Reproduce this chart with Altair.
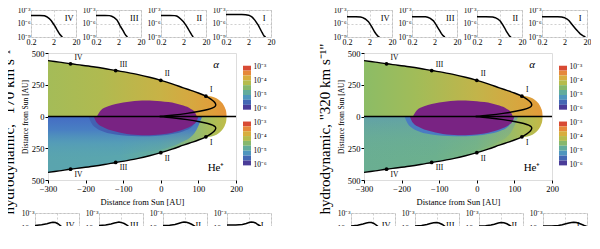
import altair as alt
import pandas as pd

FONT = "Liberation Serif"

# ---------------- small panels (x, log10 y) ----------------
ROMAN = ["IV", "III", "II", "I"]

# top row, 170 km/s
A170_IV_X = [0.2, 0.5, 0.8, 1.0, 1.3, 1.6, 2.0, 2.4, 2.8, 3.3, 3.8, 4.5, 5.0]
A170_IV_Y = [-4.2, -4.2, -4.3, -4.5, -4.9, -5.4, -6.1, -6.7, -7.3, -7.9, -8.4, -8.8, -9.0]
A170_III_X = [0.2, 0.5, 0.8, 1.0, 1.3, 1.7, 2.0, 2.3, 2.7, 3.2, 3.7, 4.2, 5.0]
A170_III_Y = [-4.2, -4.2, -4.25, -4.4, -4.7, -5.2, -5.8, -6.4, -7.0, -7.6, -8.2, -8.6, -9.0]
A170_II_X = [0.2, 0.5, 0.8, 1.0, 1.2, 1.5, 2.0, 2.5, 3.0, 3.5, 4.1, 4.7, 5.4]
A170_II_Y = [-4.2, -4.2, -4.25, -4.35, -4.6, -5.0, -5.6, -6.3, -6.9, -7.5, -8.1, -8.6, -9.0]
A170_I_X = [0.2, 0.5, 1.0, 1.5, 2.0, 2.5, 3.0, 3.9, 4.7, 5.5, 6.3, 7.1, 8.0, 8.9, 10, 11.5]
A170_I_Y = [-4.0, -4.0, -4.0, -4.05, -4.15, -4.35, -4.65, -5.3, -5.9, -6.4, -7.0, -7.5, -8.0, -8.4, -8.8, -9.0]

# bottom row, 170 km/s
H170_IV_X = [0.2, 0.4, 0.7, 1.0, 1.3, 1.7, 2.2, 3.0, 4.0, 5.5, 7.5, 10, 14, 19]
H170_IV_Y = [-5.5, -5.35, -5.15, -4.95, -4.85, -4.9, -5.15, -5.6, -6.2, -6.9, -7.6, -8.2, -8.7, -9.0]
H170_III_X = [0.2, 0.4, 0.7, 1.0, 1.3, 1.6, 2.0, 2.8, 3.7, 5.0, 7.0, 10, 14, 20]
H170_III_Y = [-5.5, -5.4, -5.2, -5.0, -4.88, -4.82, -4.88, -5.1, -5.4, -5.9, -6.5, -7.3, -8.1, -9.0]
H170_II_X = [0.2, 0.4, 0.7, 1.0, 1.4, 1.8, 2.3, 3.0, 4.0, 5.5, 7.5, 10, 14, 20]
H170_II_Y = [-5.5, -5.45, -5.3, -5.1, -4.92, -4.82, -4.85, -5.0, -5.25, -5.6, -6.1, -6.6, -7.2, -7.9]
H170_I_X = [0.2, 0.5, 1.0, 1.5, 2.0, 2.5, 3.2, 4.0, 5.0, 7.0, 10, 14, 20]
H170_I_Y = [-5.4, -5.4, -5.3, -5.1, -4.9, -4.8, -4.85, -5.0, -5.3, -5.7, -6.0, -6.3, -6.6]

# top row, 320 km/s
A320_IV_X = [0.2, 0.5, 0.8, 1.0, 1.3, 1.8, 2.5, 3.0, 3.4, 4.0, 4.7, 5.5]
A320_IV_Y = [-4.5, -4.5, -4.55, -4.7, -5.0, -5.6, -6.7, -7.4, -7.9, -8.4, -8.8, -9.0]
A320_III_X = [0.2, 0.5, 0.8, 1.0, 1.3, 1.8, 2.3, 2.8, 3.4, 4.0, 4.8, 5.8]
A320_III_Y = [-4.5, -4.5, -4.52, -4.6, -4.85, -5.4, -6.2, -6.9, -7.6, -8.2, -8.7, -9.0]
A320_II_X = [0.2, 0.5, 1.0, 1.3, 1.7, 2.2, 2.8, 3.4, 4.0, 4.8, 5.6, 6.5]
A320_II_Y = [-4.5, -4.5, -4.55, -4.7, -5.0, -5.5, -6.3, -7.0, -7.7, -8.3, -8.8, -9.0]
A320_I_X = [0.2, 0.5, 1.0, 1.5, 2.0, 2.6, 3.2, 4.0, 5.0, 6.3, 8.0, 10, 13, 17]
A320_I_Y = [-4.5, -4.5, -4.5, -4.55, -4.7, -5.0, -5.4, -6.0, -6.6, -7.2, -7.8, -8.3, -8.7, -9.0]

# bottom row, 320 km/s
H320_IV_X = [0.2, 0.4, 0.7, 1.0, 1.3, 1.7, 2.2, 3.0, 4.0, 5.0, 6.5, 8.5, 11, 14, 18]
H320_IV_Y = [-5.6, -5.45, -5.2, -5.0, -4.9, -4.92, -5.1, -5.5, -6.0, -6.4, -7.0, -7.6, -8.2, -8.7, -9.0]
H320_III_X = [0.2, 0.4, 0.7, 1.0, 1.4, 1.9, 2.5, 3.5, 5.0, 6.5, 8.5, 11, 15, 20]
H320_III_Y = [-5.6, -5.5, -5.3, -5.1, -4.95, -4.9, -5.0, -5.3, -5.8, -6.3, -6.9, -7.6, -8.4, -9.0]
H320_II_X = [0.2, 0.4, 0.7, 1.0, 1.5, 2.0, 2.7, 3.7, 5.0, 7.0, 10, 14, 20]
H320_II_Y = [-5.6, -5.55, -5.4, -5.25, -5.0, -4.9, -4.95, -5.15, -5.5, -5.9, -6.3, -6.7, -7.0]
H320_I_X = [0.2, 0.5, 1.0, 1.5, 2.0, 3.0, 4.0, 5.0, 6.5, 8.5, 11, 15, 20]
H320_I_Y = [-5.6, -5.6, -5.5, -5.35, -5.2, -5.0, -4.9, -4.85, -4.9, -5.05, -5.25, -5.5, -5.7]

SMALL_TICKS_X = [0.2, 2, 20]
SMALL_TICKS_Y = [1e-9, 1e-6, 1e-3]
ROMAN_POS_TOP = (10.0, -4.75)
ROMAN_POS_BOT = (8.0, -5.3)

# ---------------- main panel geometry (AU) ----------------
HP_X = [-300, -270, -240, -210, -180, -150, -120, -90, -60, -30, 0, 30, 60, 80, 100, 120, 135, 148, 158, 166, 171, 174, 175]
HP_Y = [440, 428, 415, 404, 392, 378, 362, 347, 330, 309, 285, 257, 226, 206, 186, 166, 157, 143, 122, 95, 65, 35, 0]

SL_X = [-3, 30, 70, 103, 125, 138, 145, 146, 143, 137, 129, 120, 100, 80, 60, 30, 0, -30, -60, -90, -120, -150, -180, -210, -240, -270, -300]
SL_Y = [0, 10, 25, 41, 55, 68, 82, 96, 112, 128, 145, 160, 185, 206, 226, 257, 285, 309, 330, 347, 362, 378, 392, 404, 415, 428, 440]

PT_LABEL = ["I", "II", "III", "IV"]
PT_X = [120, 0, -120, -240]
PT_Y = [160, 285, 362, 415]

ELT_X = [-170, -160, -140, -120, -100, -80, -60, -40, -20, 0, 20, 40, 60, 80, 90, 96]
ELT_Y = [0, 48, 80, 98, 111, 119, 124, 126, 125, 121, 114, 103, 86, 60, 37, 0]
ELB_X = [-178, -170, -150, -130, -110, -90, -70, -50, -30, -10, 10, 30, 50, 70, 85, 95, 100]
ELB_Y = [0, 50, 88, 111, 126, 137, 143, 147, 147, 144, 138, 128, 113, 91, 66, 39, 0]

HALO_X = [-192, -185, -170, -150, -120, -90, -60, -30, 0, 30, 60, 85, 100]
HALO_Y = [0, 50, 95, 122, 142, 152, 156, 155, 150, 138, 116, 75, 0]

OV_X = [-300, -250, -200, -150, -100, -50, 0, 50, 90, 110]
OV_Y = [350, 340, 330, 315, 300, 280, 260, 210, 130, 0]

ANN_X = [147, 147]
ANN_Y = [405, -405]

CB_EDGES = [-2.93, -3.28, -3.63, -3.98, -4.33, -4.68, -5.04, -5.39, -5.75, -6.1]
CB_COLORS = ["#d84a34", "#e6883a", "#d8ae3e", "#b6bc4c", "#86b86c", "#62ac9c", "#4f96be", "#4468b4", "#4a3c98"]
CB_TICKS = [1e-3, 1e-4, 1e-5, 1e-6]

SUP = {-3: "⁻³", -4: "⁻⁴", -5: "⁻⁵", -6: "⁻⁶", -9: "⁻⁹"}


def sup_expr():
    e = "round(log(datum.value)/LN10)"
    s = "''"
    for k, v in SUP.items():
        s = f"({e} == {k} ? '{v}' : {s})"
    return "'10' + " + s


def grad(stops, vertical=False):
    return alt.Gradient(
        gradient="linear", x1=0, y1=0, x2=0 if vertical else 1, y2=1 if vertical else 0,
        stops=[alt.GradientStop(offset=o, color=c) for o, c in stops])


def spacer(w, h):
    return alt.Chart(pd.DataFrame({"v": [0]})).mark_point(opacity=0, size=0.1).encode(
        x=alt.X("v:Q", axis=None), y=alt.Y("v:Q", axis=None)).properties(
        width=w, height=h, view=alt.ViewBackground(stroke="transparent"))


# ---------------- small panel ----------------
S_XAX = alt.Axis(values=SMALL_TICKS_X,
                 labelExpr="datum.value < 1 ? '0.2' : (datum.value < 5 ? '2' : '20')",
                 grid=True, gridDash=[2, 2], gridColor="#b0b0b0", gridWidth=0.6,
                 domain=False, ticks=False, labelPadding=1, labelFontSize=8,
                 labelFlush=False, labelOverlap=False, title=None, labelFont=FONT)
S_YAX = alt.Axis(values=SMALL_TICKS_Y, labelExpr=sup_expr(),
                 grid=True, gridDash=[2, 2], gridColor="#b0b0b0", gridWidth=0.6,
                 domain=False, ticks=False, labelPadding=1, labelFontSize=7.5,
                 labelFlush=False, labelOverlap=False, title=None, labelFont=FONT)
S_XSC = alt.Scale(type="log", domain=[0.2, 20], nice=False)
S_YSC = alt.Scale(type="log", domain=[1e-9, 1e-3], nice=False)


def small(xs, ys, label, pos, w, h):
    df = pd.DataFrame({"x": xs, "y": [10 ** v for v in ys]})
    line = alt.Chart(df).mark_line(color="black", strokeWidth=1.5, clip=True).encode(
        x=alt.X("x:Q", scale=S_XSC, axis=S_XAX), y=alt.Y("y:Q", scale=S_YSC, axis=S_YAX))
    tdf = pd.DataFrame({"x": [pos[0]], "y": [10 ** pos[1]], "t": [label]})
    txt = alt.Chart(tdf).mark_text(font=FONT, fontSize=8.5, color="black").encode(
        x=alt.X("x:Q", scale=S_XSC, axis=S_XAX), y=alt.Y("y:Q", scale=S_YSC, axis=S_YAX), text="t:N")
    return alt.layer(line, txt).properties(width=w, height=h)


# ---------------- main panel ----------------
XS = alt.Scale(domain=[-300, 200], nice=False, zero=False)
YS = alt.Scale(domain=[-500, 500], nice=False, zero=False)
M_XAX = alt.Axis(values=[-300, -200, -100, 0, 100, 200], title="Distance from Sun [AU]",
                 grid=False, domain=False, tickSize=3, tickColor="black", labelFont=FONT,
                 labelFontSize=8.5, titleFont=FONT, titleFontSize=8.5, titleFontWeight="normal",
                 labelPadding=1.5, titlePadding=4.5, labelFlush=False, labelOverlap=False)
M_YAX = alt.Axis(values=[-500, -250, 0, 250, 500], title="Distance from Sun [AU]",
                 labelExpr="format(abs(datum.value), 'd')",
                 grid=False, domain=False, tickSize=3, tickColor="black", labelFont=FONT,
                 labelFontSize=8.5, titleFont=FONT, titleFontSize=7.5, titleFontWeight="normal",
                 labelPadding=1, titlePadding=2, labelOverlap=False)


def enc():
    return dict(x=alt.X("x:Q", scale=XS, axis=M_XAX), y=alt.Y("y:Q", scale=YS, axis=M_YAX))


def half(xs, ys, sign):
    return pd.DataFrame({"x": xs, "y": [sign * v for v in ys], "y0": [0] * len(xs)})


def main_panel(top_stops, bot_stops, ov_stops, halo_col):
    top = alt.Chart(half(HP_X, HP_Y, 1)).mark_area(color=grad(top_stops), interpolate="monotone").encode(
        **enc(), y2="y0:Q")
    bot = alt.Chart(half(HP_X, HP_Y, -1)).mark_area(color=grad(bot_stops), interpolate="monotone").encode(
        **enc(), y2="y0:Q")
    ov = alt.Chart(half(OV_X, OV_Y, -1)).mark_area(color=grad(ov_stops, vertical=True),
                                                  interpolate="monotone").encode(**enc(), y2="y0:Q")
    halo = alt.Chart(half(HALO_X, HALO_Y, -1)).mark_area(color=halo_col, interpolate="monotone").encode(
        **enc(), y2="y0:Q")
    et = alt.Chart(half(ELT_X, ELT_Y, 1)).mark_area(color="#792383", interpolate="monotone").encode(
        **enc(), y2="y0:Q")
    eb = alt.Chart(half(ELB_X, ELB_Y, -1)).mark_area(color="#792383", interpolate="monotone").encode(
        **enc(), y2="y0:Q")
    rule = alt.Chart(pd.DataFrame({"y": [0]})).mark_rule(color="black", strokeWidth=1.3).encode(
        y=alt.Y("y:Q", scale=YS, axis=M_YAX))
    sl_t = pd.DataFrame({"x": SL_X, "y": SL_Y, "i": list(range(len(SL_X)))})
    sl_b = pd.DataFrame({"x": SL_X, "y": [-v for v in SL_Y], "i": list(range(len(SL_X)))})
    st = alt.Chart(sl_t).mark_line(color="black", strokeWidth=1.4, interpolate="catmull-rom", clip=True).encode(
        **enc(), order="i:Q")
    sb = alt.Chart(sl_b).mark_line(color="black", strokeWidth=1.4, interpolate="catmull-rom", clip=True).encode(
        **enc(), order="i:Q")
    pts = pd.DataFrame({"x": PT_X + PT_X, "y": PT_Y + [-v for v in PT_Y], "t": PT_LABEL + PT_LABEL})
    pm = alt.Chart(pts).mark_circle(color="black", size=14, opacity=1).encode(**enc())
    lt = alt.Chart(pts[pts.y > 0]).mark_text(font=FONT, fontSize=7.5, dx=4, dy=-6, align="left",
                                             color="black").encode(**enc(), text="t:N")
    lb = alt.Chart(pts[pts.y < 0]).mark_text(font=FONT, fontSize=7.5, dx=4, dy=6, align="left",
                                             color="black").encode(**enc(), text="t:N")
    a1 = alt.Chart(pd.DataFrame({"x": ANN_X[:1], "y": ANN_Y[:1], "t": ["α"]})).mark_text(
        font=FONT, fontSize=11, fontStyle="italic", color="black").encode(**enc(), text="t:N")
    a2 = alt.Chart(pd.DataFrame({"x": ANN_X[1:], "y": ANN_Y[1:], "t": ["He⁺"]})).mark_text(
        font=FONT, fontSize=11, color="black").encode(**enc(), text="t:N")
    inner = alt.layer(top, bot, ov, halo, et, eb, rule, st, sb, pm, lt, lb, a1, a2)

    cb_df = pd.DataFrame({
        "lo": [10 ** CB_EDGES[i + 1] for i in range(len(CB_COLORS))],
        "hi": [10 ** CB_EDGES[i] for i in range(len(CB_COLORS))],
        "band": list(range(len(CB_COLORS))),
        "c0": [0] * len(CB_COLORS), "c1": [1] * len(CB_COLORS)})

    def cbar(rng):
        return alt.Chart(cb_df).mark_rect().encode(
            x=alt.X("c0:Q", scale=alt.Scale(domain=[0, 1], range=[195, 203], nice=False, zero=False), axis=None),
            x2="c1:Q",
            y=alt.Y("lo:Q", scale=alt.Scale(type="log", domain=[1e-6, 1e-3], range=rng, nice=False),
                    axis=alt.Axis(orient="right", offset=16, values=CB_TICKS, labelExpr=sup_expr(),
                                  ticks=False, domain=False, grid=False, title=None, labelFont=FONT,
                                  labelFontSize=7.5, labelPadding=1, labelOverlap=False)),
            y2="hi:Q",
            color=alt.Color("band:O", scale=alt.Scale(domain=list(range(len(CB_COLORS))), range=CB_COLORS),
                            legend=None))

    return alt.layer(inner, cbar([55.3, 13.7]), cbar([111, 69.5])).resolve_scale(
        x="independent", y="independent", color="independent").properties(width=188, height=127)


def column(title, tops, bots, top_stops, bot_stops, ov_stops, halo_col):
    row1 = alt.hconcat(
        spacer(1, 27),
        alt.hconcat(*[small(x, y, r, ROMAN_POS_TOP, 45, 27) for (x, y), r in zip(tops, ROMAN)], spacing=0),
        spacing=0)
    mrow = alt.hconcat(spacer(1, 127), main_panel(top_stops, bot_stops, ov_stops, halo_col), spacing=4)
    row3 = alt.hconcat(
        spacer(1, 30),
        alt.hconcat(*[small(x, y, r, ROMAN_POS_BOT, 44, 30) for (x, y), r in zip(bots, ROMAN)], spacing=0),
        spacing=4)
    return alt.vconcat(row1, mrow, row3, spacing=1,
                       title=alt.TitleParams(text=title, orient="left", anchor="middle", font=FONT,
                                             fontSize=15, fontWeight="normal", offset=-3))


TOP170 = [(0, "#a4bc58"), (0.3, "#b0ba50"), (0.63, "#c8b246"), (0.8, "#d6a840"), (0.92, "#e09e3a"), (1, "#e6943a")]
BOT170 = [(0, "#5aa4ae"), (0.4, "#5aa6ae"), (0.63, "#66ad9c"), (0.8, "#8cb878"), (0.92, "#abbe58"), (1, "#c0bc48")]
OV170 = [(0, "rgba(68,108,196,1)"), (0.3, "rgba(72,125,196,0.95)"), (0.6, "rgba(80,150,190,0.55)"),
         (1, "rgba(88,165,175,0)")]
TOP320 = [(0, "#8cbc66"), (0.3, "#a2bc58"), (0.63, "#c2b44a"), (0.8, "#d2aa42"), (0.92, "#dca23c"), (1, "#e49a3a")]
BOT320 = [(0, "#6aae92"), (0.4, "#6cb08e"), (0.63, "#78b583"), (0.8, "#96bb6a"), (0.92, "#b2bd52"), (1, "#c4b846")]
OV320 = [(0, "rgba(90,150,185,0.55)"), (0.5, "rgba(100,165,165,0.25)"), (1, "rgba(105,172,150,0)")]

left = column('hydrodynamic, "170 km s⁻¹"',
              [(A170_IV_X, A170_IV_Y), (A170_III_X, A170_III_Y), (A170_II_X, A170_II_Y), (A170_I_X, A170_I_Y)],
              [(H170_IV_X, H170_IV_Y), (H170_III_X, H170_III_Y), (H170_II_X, H170_II_Y), (H170_I_X, H170_I_Y)],
              TOP170, BOT170, OV170, "#4361b2")
right = column('hydrodynamic, "320 km s⁻¹"',
               [(A320_IV_X, A320_IV_Y), (A320_III_X, A320_III_Y), (A320_II_X, A320_II_Y), (A320_I_X, A320_I_Y)],
               [(H320_IV_X, H320_IV_Y), (H320_III_X, H320_III_Y), (H320_II_X, H320_II_Y), (H320_I_X, H320_I_Y)],
               TOP320, BOT320, OV320, "#4a7cc2")

chart = alt.hconcat(left, right, spacing=41).properties(
    padding={"left": -7, "top": -3, "right": -1, "bottom": -27}
).configure_view(stroke="#9a9a9a", strokeWidth=0.8).configure(font=FONT)

chart.save("out.html", embed_options={"renderer": "svg", "actions": False})
